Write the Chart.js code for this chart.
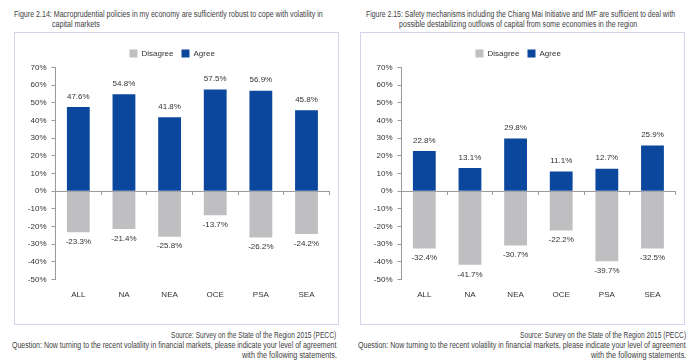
<!DOCTYPE html>
<html><head><meta charset="utf-8">
<script src="https://cdn.jsdelivr.net/npm/chart.js@4.4.1/dist/chart.umd.min.js"></script>
<style>
html,body{margin:0;padding:0;}
body{width:700px;height:364px;background:#fff;position:relative;overflow:hidden;font-family:'Liberation Sans',Arial,sans-serif;color:#404040;}
.t{position:absolute;white-space:nowrap;font-size:8.5px;line-height:10px;transform-origin:0 0;}
.box{position:absolute;top:32px;width:323px;height:291px;border:1px solid #d4d4ec;}
.box canvas{position:absolute;left:0;top:0;}
</style></head>
<body>
<div class="t" data-l="14" data-t="9" data-w="309">Figure 2.14: Macroprudential policies in my economy are sufficiently robust to cope with volatility in</div>
<div class="t" data-l="51.7" data-t="19" data-w="47.6">capital markets</div>
<div class="t" data-l="366" data-t="9" data-w="309">Figure 2.15: Safety mechanisms including the Chiang Mai Initiative and IMF are sufficient to deal with</div>
<div class="t" data-l="399.3" data-t="19" data-w="238">possible destabilizing outflows of capital from some economies in the region</div>

<div class="box" style="left:14px;"><canvas id="c1" width="323" height="291"></canvas></div>
<div class="box" style="left:360px;"><canvas id="c2" width="323" height="291"></canvas></div>

<div class="t" data-l="171" data-t="330" data-w="165">Source: Survey on the State of the Region 2015 (PECC)</div>
<div class="t" data-l="12.3" data-t="340" data-w="324.4">Question: Now turning to the recent volatility in financial markets, please indicate your level of agreement</div>
<div class="t" data-l="241.7" data-t="350" data-w="95">with the following statements.</div>
<div class="t" data-l="520" data-t="330" data-w="166">Source: Survey on the State of the Region 2015 (PECC)</div>
<div class="t" data-l="358.3" data-t="340" data-w="327.7">Question: Now turning to the recent volatility in financial markets, please indicate your level of agreement</div>
<div class="t" data-l="590.7" data-t="350" data-w="95.3">with the following statements.</div>

<script>
// ---- data ----
const categories = ['ALL', 'NA', 'NEA', 'OCE', 'PSA', 'SEA'];
const agree214 = [47.6, 54.8, 41.8, 57.5, 56.9, 45.8];
const disagree214 = [-23.3, -21.4, -25.8, -13.7, -26.2, -24.2];
const agree215 = [22.8, 13.1, 29.8, 11.1, 12.7, 25.9];
const disagree215 = [-32.4, -41.7, -30.7, -22.2, -39.7, -32.5];
const yMin = -50, yMax = 70, yStep = 10;

// ---- text placement ----
document.querySelectorAll('.t').forEach(el => {
  el.style.left = el.dataset.l + 'px';
  el.style.top = el.dataset.t + 'px';
  const nat = el.scrollWidth;
  el.style.transform = 'scaleX(' + (parseFloat(el.dataset.w) / nat) + ')';
});

const FAM = "'Liberation Sans', Arial, sans-serif";
Chart.defaults.font.family = FAM;
Chart.defaults.font.size = 8;
Chart.defaults.color = '#333';

const BLUE = '#0b479d';
const GREY = '#bfbfc2';
const AXIS = '#9a9a9a';

const valueLabels = {
  id: 'valueLabels',
  afterDatasetsDraw(chart) {
    const ctx = chart.ctx;
    ctx.save();
    ctx.font = '8px ' + FAM;
    ctx.fillStyle = '#333';
    ctx.textAlign = 'center';
    ctx.textBaseline = 'middle';
    chart.data.datasets.forEach((ds, i) => {
      chart.getDatasetMeta(i).data.forEach((bar, j) => {
        const v = ds.data[j];
        const y = v >= 0 ? bar.y - 10.5 : bar.y + 9.5;
        ctx.fillText(v.toFixed(1) + '%', bar.x, y);
      });
    });
    ctx.restore();
  }
};

function makeChart(id, disagree, agree) {
  return new Chart(document.getElementById(id), {
    type: 'bar',
    data: {
      labels: categories,
      datasets: [
        { label: 'Disagree', data: disagree, backgroundColor: GREY, borderWidth: 0 },
        { label: 'Agree', data: agree, backgroundColor: BLUE, borderWidth: 0 }
      ]
    },
    options: {
      responsive: false,
      animation: false,
      devicePixelRatio: 1,
      categoryPercentage: 1,
      barPercentage: 0.5,
      layout: { padding: { top: 8.5, right: 8.7, bottom: 14.3, left: 0 } },
      plugins: {
        legend: {
          position: 'top',
          labels: { boxWidth: 8, boxHeight: 8, padding: 8, color: '#333', font: { size: 8 } }
        },
        tooltip: { enabled: false }
      },
      scales: {
        x: {
          type: 'category',
          stacked: true,
          position: 'bottom',
          grid: { display: false, drawTicks: false },
          border: { display: false },
          ticks: { padding: 10.3, color: '#333', font: { size: 8 } }
        },
        x0: {
          type: 'category',
          position: { y: 0 },
          offset: true,
          z: 1,
          grid: { offset: true, drawOnChartArea: false, drawTicks: true, tickLength: 3, color: AXIS },
          border: { display: true, color: AXIS, width: 1 },
          ticks: { display: false }
        },
        y: {
          stacked: true,
          min: yMin,
          max: yMax,
          afterFit(scale) { scale.width = 40.5; },
          grid: { drawOnChartArea: false, drawTicks: true, tickLength: 4, color: AXIS },
          border: { display: true, color: AXIS, width: 1 },
          ticks: { stepSize: yStep, padding: 5, color: '#333', font: { size: 8 }, callback: v => v + '%' }
        }
      }
    },
    plugins: [valueLabels]
  });
}

makeChart('c1', disagree214, agree214);
makeChart('c2', disagree215, agree215);
</script>
</body></html>
